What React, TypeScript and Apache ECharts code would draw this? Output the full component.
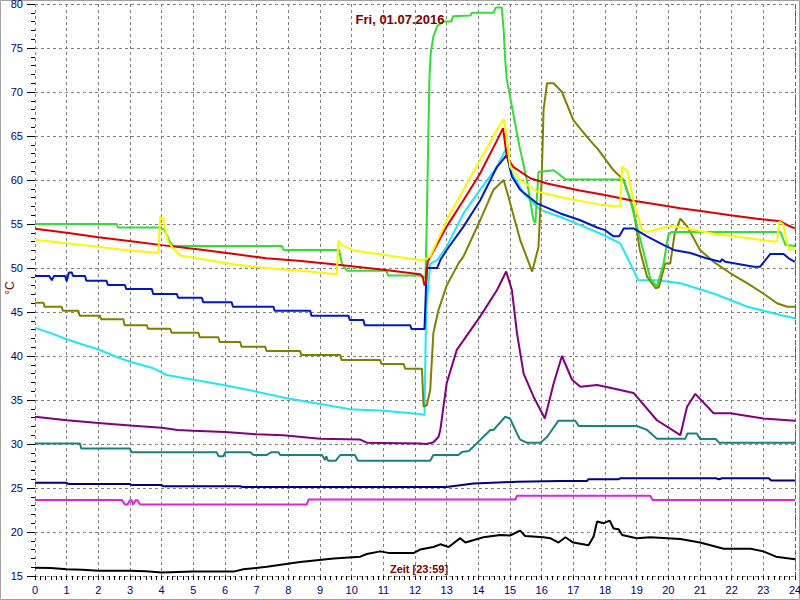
import React, { useEffect, useRef } from "react";
import * as echarts from "echarts";

const titleText = "Fri, 01.07.2016";
const xLabelText = "Zeit [23:59]";
const yUnit = "°C";

const green: [number, number][] = [
  [0, 55], [2.58, 55], [2.62, 54.6], [3.95, 54.6], [4.1, 54.3], [4.25, 53], [4.37, 52.5], [7.8, 52.5], [7.85, 52.05],
  [9.6, 52.05], [9.7, 50.4], [9.85, 49.7], [11.1, 49.7], [11.15, 49.15], [12.22, 49.15], [12.33, 48.8], [12.37, 55],
  [12.42, 65], [12.46, 72], [12.5, 74.5], [12.58, 76.3], [12.7, 77.5], [12.9, 78], [13.15, 78], [13.2, 78.6],
  [13.75, 78.7], [13.8, 79], [14.48, 79], [14.55, 79.6], [14.74, 79.6], [14.8, 77], [14.85, 73.6], [14.9, 71.4],
  [15.3, 63.8], [15.53, 60], [15.74, 55.45], [15.8, 55.1], [15.9, 60.9], [16.1, 61], [16.38, 61.1], [16.64, 60.4],
  [16.75, 60.05], [18.58, 60.05], [18.8, 57.7], [19.43, 48.8], [19.64, 47.9], [19.85, 50.5], [20.0, 53.75],
  [20.1, 54.1], [23.54, 54.1], [23.7, 52.6], [24, 52.5],
];

const yellow: [number, number][] = [
  [0, 53.2], [1, 52.8], [2, 52.4], [3, 52], [3.9, 51.7], [3.95, 55.8], [4.05, 55.6], [4.2, 53], [4.37, 52.2],
  [4.6, 51.4], [4.79, 51.3], [5.3, 51], [6.3, 50.4], [7.3, 50], [8.4, 49.7], [9.53, 49.3], [9.58, 53.1], [9.7, 52.6],
  [10.05, 52], [11, 51.5], [12.16, 50.9], [12.27, 50.9], [12.48, 51.3], [13.0, 55.45], [13.53, 58.9], [14.06, 62.3],
  [14.59, 65.7], [14.8, 66.9], [14.9, 64.9], [15.0, 61.5], [15.32, 60], [15.85, 58.7], [16.8, 57.9], [17.85, 57.2],
  [18.48, 57], [18.54, 61.5], [18.7, 61.1], [18.9, 57.7], [19.17, 54.3], [19.33, 54.1], [20.06, 54.8], [20.6, 54.5],
  [21.43, 53.9], [22.5, 53.4], [23.3, 53.0], [23.43, 53.0], [23.5, 55.3], [23.62, 55], [23.8, 52.1], [24, 52.1],
];

const red: [number, number][] = [
  [0, 54.45], [1, 54], [2, 53.5], [3.1, 53], [4, 52.6], [5.2, 52.1], [6.3, 51.6], [7.3, 51.1], [8.4, 50.8],
  [9.5, 50.4], [10, 50.2], [11, 49.8], [12.16, 49.3], [12.25, 48.9], [12.3, 48], [12.35, 48.5], [12.4, 50.7],
  [13.0, 54.7], [13.53, 57.7], [14.06, 60.76], [14.59, 64.5], [14.78, 65.9], [14.9, 62.65], [15.1, 61.5],
  [15.64, 60.2], [16.17, 59.6], [17.2, 58.8], [18, 58.3], [18.8, 57.7], [19.5, 57.3], [20.38, 56.8], [21.2, 56.4],
  [21.96, 56.0], [22.8, 55.6], [23.54, 55.3], [23.8, 54.8], [24, 54.5],
];

const blue: [number, number][] = [
  [0, 49.1], [0.45, 49.1], [0.53, 48.6], [0.6, 49.1], [0.95, 49.1], [1.0, 48.5], [1.07, 49.5], [1.16, 49.5],
  [1.2, 49.1], [1.58, 49.1], [1.62, 48.56], [2.26, 48.56], [2.3, 48.07], [2.84, 48.07], [2.88, 47.6], [3.69, 47.6],
  [3.73, 47.05], [4.48, 47.05], [4.52, 46.63], [5.27, 46.63], [5.31, 46.1], [6.21, 46.1], [6.25, 45.6], [7.53, 45.6],
  [7.57, 45.15], [8.69, 45.15], [8.73, 44.58], [9.9, 44.58], [9.94, 44.1], [10.37, 44.1], [10.41, 43.5],
  [11.85, 43.5], [11.89, 43.07], [12.3, 43.07], [12.37, 50], [12.7, 50], [12.8, 50.9], [13, 52.05], [13.53, 54.7],
  [14.06, 57.7], [14.59, 61.5], [14.9, 62.84], [15.06, 60.4], [15.32, 58.9], [15.85, 57.35], [16.59, 56.2],
  [17.2, 55.45], [17.75, 54.6], [18.0, 54.3], [18.27, 53.6], [18.45, 53.6], [18.59, 54.5], [18.9, 54.5],
  [19.33, 53.6], [19.75, 52.8], [20.17, 52.05], [20.7, 51.7], [21.2, 51.1], [21.64, 50.7], [21.7, 51.0],
  [21.8, 50.7], [22.7, 50.15], [22.9, 50.15], [23.22, 51.6], [23.64, 51.6], [23.8, 51.1], [24, 50.7],
];

const cyan: [number, number][] = [
  [0, 43.2], [0.5, 42.6], [1, 41.9], [1.5, 41.3], [2.05, 40.68], [2.5, 40], [3, 39.35], [3.74, 38.6], [4.16, 37.84],
  [5, 37.3], [5.95, 36.7], [7, 35.94], [7.95, 35.2], [9, 34.55], [9.95, 33.94], [11, 33.78], [12.16, 33.4],
  [12.3, 33.3], [12.35, 45], [12.48, 50.5], [12.7, 50.9], [13, 52.4], [13.53, 56.2], [14.06, 58.9], [14.59, 61.5],
  [14.88, 63.6], [15, 61.1], [15.43, 58.5], [15.96, 56.6], [16.59, 55.8], [17.2, 54.9], [17.95, 53.75],
  [18.48, 52.8], [18.8, 50.5], [19.05, 48.6], [19.64, 48.6], [20.38, 48.26], [21.43, 47.1], [22.5, 45.6],
  [23.54, 44.66], [24, 44.3],
];

const olive: [number, number][] = [
  [0, 46.06], [0.27, 46.06], [0.3, 45.6], [0.84, 45.6], [0.88, 45.15], [1.37, 45.15], [1.41, 44.58], [2.05, 44.58],
  [2.09, 44.17], [2.79, 44.17], [2.83, 43.5], [3.53, 43.5], [3.57, 43.1], [4.27, 43.1], [4.31, 42.65], [5.16, 42.65],
  [5.2, 42.12], [5.79, 42.12], [5.83, 41.6], [6.48, 41.6], [6.52, 41.06], [7.27, 41.06], [7.31, 40.57],
  [8.37, 40.57], [8.41, 40.1], [9.64, 40.1], [9.68, 39.55], [10.9, 39.55], [10.94, 39.1], [11.64, 39.1],
  [11.69, 38.55], [12.22, 38.55], [12.27, 34.24], [12.37, 34.4], [12.48, 36.1], [12.58, 42.6], [12.74, 45.2],
  [13.0, 48], [13.37, 50.5], [13.53, 51.3], [14.06, 55.45], [14.48, 58.9], [14.8, 60], [14.95, 58.1], [15.32, 53.2],
  [15.7, 49.6], [15.9, 52.4], [16.0, 60], [16.06, 68], [16.17, 71], [16.38, 71], [16.64, 70], [17.0, 66.8],
  [17.43, 64.9], [17.8, 63.4], [18.27, 61.1], [18.59, 60], [18.9, 56.6], [19.1, 52.05], [19.33, 49], [19.6, 47.7],
  [19.7, 47.8], [19.9, 50.5], [20.06, 50.5], [20.2, 53.9], [20.38, 55.6], [20.6, 54.7], [21.0, 52.05],
  [21.43, 50.7], [21.96, 49.4], [22.5, 48.26], [23.0, 47.1], [23.43, 46.0], [23.75, 45.6], [24, 45.6],
];

const purple: [number, number][] = [
  [0, 33.1], [1, 32.7], [2, 32.4], [3, 32.1], [4, 31.85], [4.5, 31.6], [5, 31.5], [6, 31.35], [7, 31.1], [7.84, 31.0],
  [9, 30.6], [10.27, 30.5], [10.48, 30.15], [12.16, 30.07], [12.37, 30.0], [12.58, 30.2], [12.74, 30.8], [12.8, 31.6],
  [13, 36.9], [13.32, 40.7], [14.06, 44.5], [14.59, 47.5], [14.88, 49.6], [15.06, 47.5], [15.22, 42.6],
  [15.43, 38.0], [15.74, 35.4], [16.1, 32.9], [16.38, 36.9], [16.64, 40.0], [16.96, 37.3], [17.22, 36.5],
  [17.75, 36.7], [18.27, 36.3], [18.9, 35.8], [19.64, 32.7], [20.38, 31.0], [20.59, 34.24], [20.85, 35.7],
  [21.43, 33.5], [21.96, 33.5], [23.0, 32.9], [24, 32.65],
];

const teal: [number, number][] = [
  [0, 30.05], [1.42, 30.05], [1.46, 29.5], [3.0, 29.5], [3.04, 29.05], [5.74, 29.05], [5.8, 28.6], [5.95, 28.6],
  [6.0, 29.05], [6.8, 29.05], [6.9, 28.75], [7.32, 28.75], [7.45, 29.05], [7.69, 29.05], [7.74, 28.75],
  [9.06, 28.75], [9.16, 28.2], [9.2, 28.6], [9.25, 28.1], [9.5, 28.1], [9.64, 28.75], [10.1, 28.75], [10.2, 28.1],
  [12.48, 28.1], [12.58, 28.75], [13.37, 28.75], [13.48, 29.1], [13.7, 29.2], [13.95, 30.07], [14.38, 31.6],
  [14.48, 31.6], [14.85, 33.1], [15.0, 32.9], [15.22, 31.2], [15.32, 30.5], [15.53, 30.15], [15.96, 30.15],
  [16.17, 30.8], [16.53, 32.65], [17.06, 32.65], [17.17, 32.05], [19.0, 32.05], [19.33, 31.6], [19.64, 30.6],
  [20.54, 30.6], [20.6, 31.2], [20.9, 31.2], [21.0, 30.56], [21.5, 30.56], [21.6, 30.15], [24, 30.15],
];

const navy: [number, number][] = [
  [0, 25.6], [1.0, 25.6], [1.05, 25.45], [3.0, 25.45], [3.05, 25.34], [4.0, 25.34], [4.05, 25.2], [6.48, 25.2],
  [6.55, 25.12], [13.0, 25.12], [13.85, 25.5], [15.22, 25.7], [16.59, 25.8], [17.43, 25.8], [17.48, 26.0],
  [18.43, 26.0], [18.48, 26.1], [21.5, 26.1], [21.6, 26.0], [21.7, 26.1], [23.17, 26.1], [23.25, 25.85],
  [24, 25.85],
];

const magenta: [number, number][] = [
  [0, 23.65], [2.74, 23.65], [2.84, 23.12], [2.92, 23.12], [3.0, 23.62], [3.05, 23.62], [3.1, 23.12],
  [3.18, 23.62], [3.23, 23.62], [3.32, 23.12], [8.58, 23.12], [8.64, 23.68], [15.17, 23.68], [15.22, 24.12],
  [19.43, 24.12], [19.5, 23.65], [24, 23.65],
];

const black: [number, number][] = [
  [0, 15.95], [0.5, 15.9], [1, 15.76], [1.5, 15.7], [2, 15.6], [3, 15.6], [3.5, 15.55], [4, 15.4], [4.5, 15.45],
  [5, 15.5], [6.27, 15.5], [6.58, 15.76], [7.32, 16.05], [8.37, 16.6], [9.43, 17.0], [10.27, 17.2], [10.48, 17.5],
  [10.9, 17.8], [11.2, 17.6], [11.95, 17.6], [12.16, 18.0], [12.58, 18.3], [12.8, 18.6], [13.06, 18.3],
  [13.43, 19.3], [13.59, 18.8], [14.16, 19.4], [14.69, 19.66], [15.0, 19.6], [15.32, 20.15], [15.48, 19.55],
  [16.06, 19.4], [16.27, 19.3], [16.53, 18.8], [16.75, 19.4], [17.0, 18.8], [17.48, 18.5], [17.64, 19.5],
  [17.75, 21.2], [17.96, 21.0], [18.15, 21.3], [18.27, 20.4], [18.43, 20.3], [18.54, 19.66], [19.0, 19.3],
  [19.43, 19.4], [20.38, 19.2], [21, 18.8], [21.75, 18.1], [22.6, 18.1], [23.0, 17.8], [23.4, 17.2], [24, 16.9],
];

const seriesDefs: { name: string; data: [number, number][]; color: string }[] = [
  { name: "black", data: black, color: "#000000" },
  { name: "magenta", data: magenta, color: "#dd22dd" },
  { name: "navy", data: navy, color: "#000080" },
  { name: "teal", data: teal, color: "#1a8080" },
  { name: "purple", data: purple, color: "#800080" },
  { name: "cyan", data: cyan, color: "#22e6f0" },
  { name: "olive", data: olive, color: "#808000" },
  { name: "green", data: green, color: "#33dd33" },
  { name: "blue", data: blue, color: "#0018c8" },
  { name: "red", data: red, color: "#dd0000" },
  { name: "yellow", data: yellow, color: "#f8f800" },
];

export default function App() {
  const ref = useRef<HTMLDivElement>(null);
  useEffect(() => {
    if (!ref.current) return;
    const chart = echarts.init(ref.current, null, { renderer: "svg" });
    const font = "Arial, 'Liberation Sans', sans-serif";
    const series: any[] = seriesDefs.map((s) => ({
      name: s.name,
      type: "line",
      data: s.data,
      showSymbol: false,
      symbol: "none",
      lineStyle: { color: s.color, width: 2 },
      itemStyle: { color: s.color },
      silent: true,
    }));
    series[0].markLine = {
      silent: true,
      symbol: "none",
      label: { show: false },
      lineStyle: { color: "#00a000", type: [4, 3], width: 1 },
      data: [{ xAxis: 24 }],
    };
    chart.setOption({
      animation: false,
      backgroundColor: "#ffffff",
      title: {
        text: titleText,
        left: "center",
        top: 8,
        textStyle: { color: "#800000", fontSize: 13, fontWeight: "bold", fontFamily: font },
      },
      grid: { left: 35, right: 5, top: 4, bottom: 24, containLabel: false, outerBoundsMode: "none" },
      xAxis: {
        type: "value",
        min: 0,
        max: 24,
        interval: 1,
        axisLine: { show: false },
        axisTick: { show: true, length: 4, lineStyle: { color: "#000" } },
        minorTick: { show: true, splitNumber: 6, length: 4, lineStyle: { color: "#000" } },
        axisLabel: { color: "#000080", fontSize: 11, fontFamily: font, margin: 8 },
        splitLine: { show: true, lineStyle: { color: "#808080", type: [3, 3], width: 1 } },
      },
      yAxis: {
        type: "value",
        min: 15,
        max: 80,
        interval: 5,
        axisLine: { show: false },
        axisTick: { show: true, length: 8, lineStyle: { color: "#000" } },
        minorTick: { show: true, splitNumber: 5, length: 4, lineStyle: { color: "#000" } },
        axisLabel: { color: "#000080", fontSize: 11, fontFamily: font, margin: 12 },
        splitLine: { show: true, lineStyle: { color: "#808080", type: [3, 3], width: 1 } },
      },
      graphic: [
        {
          type: "rect",
          shape: { x: 0.5, y: 0.5, width: 799, height: 599 },
          style: { fill: "none", stroke: "#a0a0a0", lineWidth: 1 },
          silent: true,
        },
        {
          type: "text",
          x: 10,
          y: 288,
          rotation: Math.PI / 2,
          style: {
            text: yUnit,
            fill: "#800000",
            font: "12px Arial, 'Liberation Sans', sans-serif",
            align: "center",
            verticalAlign: "middle",
          },
          silent: true,
        },
        {
          type: "text",
          x: 419,
          y: 569,
          style: {
            text: xLabelText,
            fill: "#800000",
            font: "bold 11px Arial, 'Liberation Sans', sans-serif",
            align: "center",
            verticalAlign: "middle",
          },
          silent: true,
        },
      ],
      series,
    });
    return () => chart.dispose();
  }, []);
  return (
    <div
      ref={ref}
      style={{ position: "fixed", left: 0, top: 0, width: 800, height: 600 }}
    />
  );
}
